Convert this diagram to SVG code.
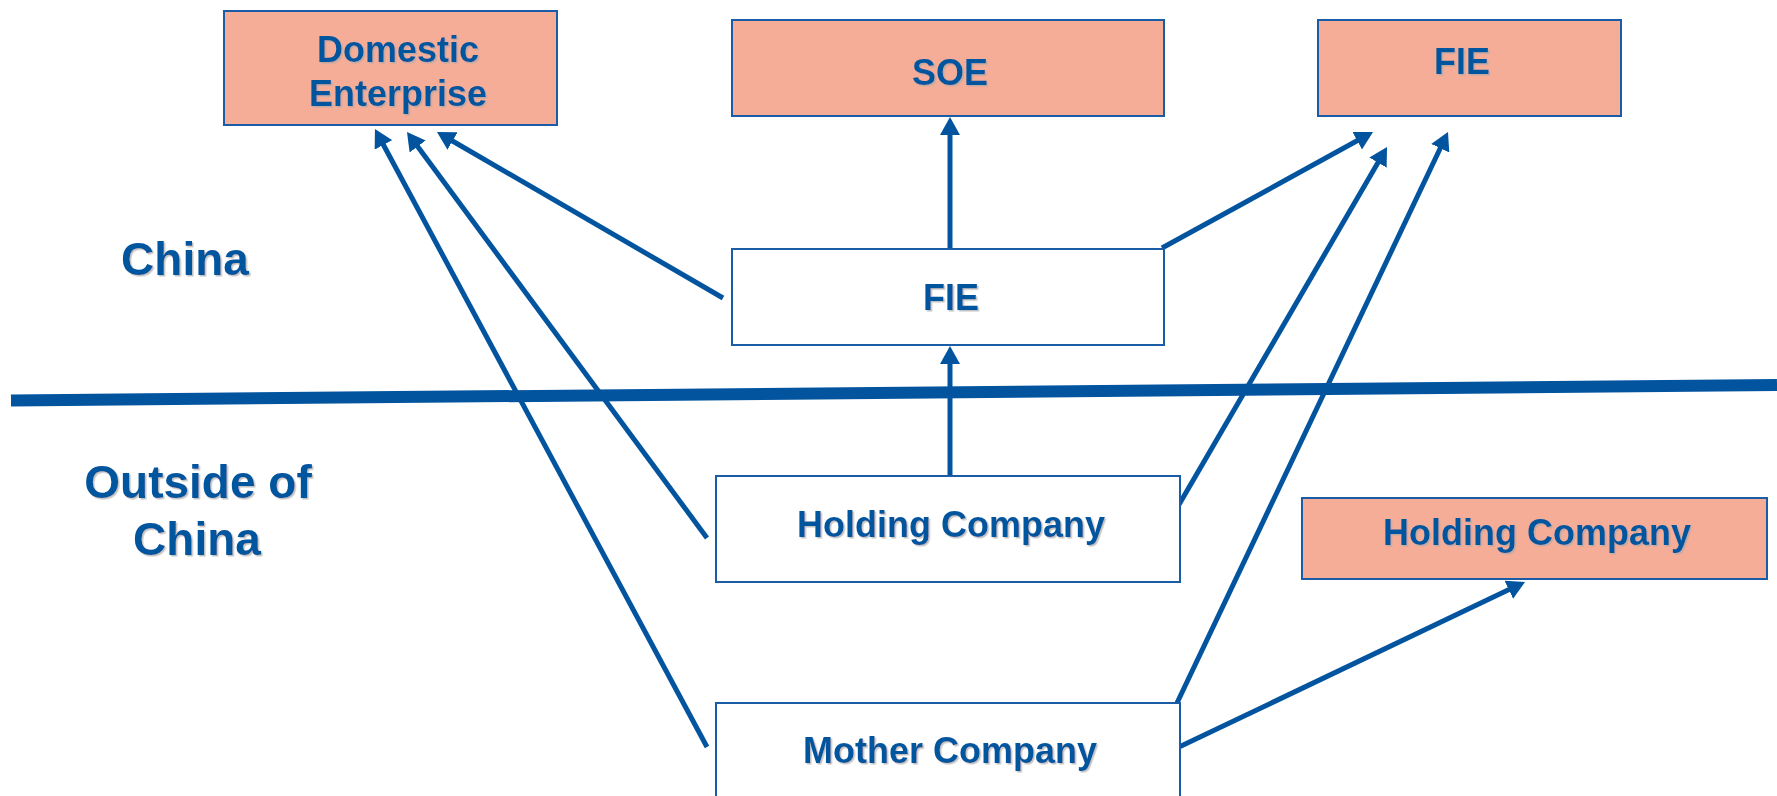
<svg xmlns="http://www.w3.org/2000/svg" width="1777" height="796" viewBox="0 0 1777 796">
<defs>
<filter id="sh" x="-10%" y="-20%" width="130%" height="150%">
<feDropShadow dx="1.5" dy="1.5" stdDeviation="0.6" flood-color="#a8a8a8" flood-opacity="0.7"/>
</filter>
<marker id="ah" viewBox="0 0 18 20" refX="5" refY="10" markerWidth="18" markerHeight="20" markerUnits="userSpaceOnUse" orient="auto">
<path d="M0,0 L18,10 L0,20 z" fill="#02549F"/>
</marker>
</defs>
<style>
.box{stroke:#1A5CA6;stroke-width:2;}
.pink{fill:#F6AD98;}
.white{fill:#FFFFFF;}
.t{font-family:"Liberation Sans",Arial,sans-serif;font-weight:bold;fill:#02549F;text-anchor:middle;filter:url(#sh);}
.n{font-size:36px;}
.big{font-size:46px;}
.c{stroke:#02549F;stroke-width:5;fill:none;marker-end:url(#ah);}
</style>
<rect width="1777" height="796" fill="#FFFFFF"/>
<line x1="11" y1="400.5" x2="1777" y2="385" stroke="#02549F" stroke-width="12"/>
<text class="t big" x="185" y="275">China</text>
<text class="t big" x="198" y="498">Outside of</text>
<text class="t big" x="197" y="555">China</text>
<g id="connectors">
<line class="c" x1="723" y1="298" x2="448.2" y2="138.5"/>
<line class="c" x1="707" y1="538" x2="414.7" y2="142.5"/>
<line class="c" x1="707" y1="747" x2="381.1" y2="140.5"/>
<line class="c" x1="950" y1="248" x2="950" y2="130"/>
<line class="c" x1="950" y1="476" x2="950" y2="359"/>
<line class="c" x1="1162" y1="248" x2="1361.6" y2="138.3"/>
<line class="c" x1="1177" y1="508" x2="1380.5" y2="158.3"/>
<line class="c" x1="1177" y1="703" x2="1442.4" y2="143.7"/>
<line class="c" x1="1179" y1="747" x2="1513.3" y2="587.6"/>
</g>
<g id="domestic">
<rect class="box pink" x="224" y="11" width="333" height="114"/>
<text class="t n" x="398" y="62">Domestic</text>
<text class="t n" x="398" y="106">Enterprise</text>
</g>
<g id="soe">
<rect class="box pink" x="732" y="20" width="432" height="96"/>
<text class="t n" x="950" y="85">SOE</text>
</g>
<g id="fie-top">
<rect class="box pink" x="1318" y="20" width="303" height="96"/>
<text class="t n" x="1462" y="74">FIE</text>
</g>
<g id="fie-mid">
<rect class="box white" x="732" y="249" width="432" height="96"/>
<text class="t n" x="951" y="310">FIE</text>
</g>
<g id="holding-mid">
<rect class="box white" x="716" y="476" width="464" height="106"/>
<text class="t n" x="951" y="537">Holding Company</text>
</g>
<g id="holding-right">
<rect class="box pink" x="1302" y="498" width="465" height="81"/>
<text class="t n" x="1537" y="545">Holding Company</text>
</g>
<g id="mother">
<rect class="box white" x="716" y="703" width="464" height="110"/>
<text class="t n" x="950" y="763">Mother Company</text>
</g>
</svg>
